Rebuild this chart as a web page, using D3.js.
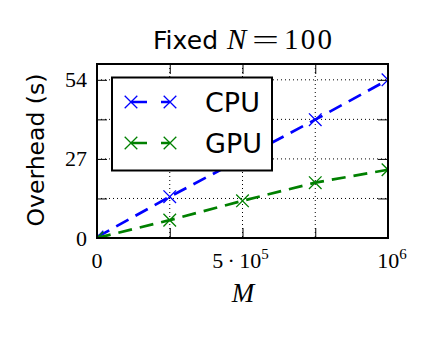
<!DOCTYPE html>
<html>
<head>
<meta charset="utf-8">
<script src="https://cdn.jsdelivr.net/npm/d3@7"></script>
<style>
  body { margin: 0; background: #fff; }
  svg { display: block; }
</style>
</head>
<body>
<svg id="chart" width="432" height="346"></svg>
<script>
const xValues = [0, 250000, 500000, 750000, 1000000];
const cpuValues = [0.3, 14.1, 27.2, 40.4, 54.0];
const gpuValues = [0.0, 6.1, 12.7, 18.9, 23.3];
const seriesNames = ["CPU", "GPU"];
const seriesColors = ["#0000ff", "#008000"];
const xTicks = [0, 250000, 500000, 750000, 1000000];
const yTicks = [0, 13.5, 27, 40.5, 54];
const yTickLabels = ["0", "", "27", "", "54"];

const svg = d3.select("#chart");
const L = 97, R = 388, T = 64, B = 238;
const x = d3.scaleLinear().domain([0, 1000000]).range([L, R]);
const y = d3.scaleLinear().domain([0, 59.4]).range([B, T]);

svg.append("defs").append("clipPath").attr("id", "clip")
  .append("rect").attr("x", L).attr("y", T).attr("width", R - L).attr("height", B - T);

// grid
const grid = svg.append("g");
xTicks.forEach(t => {
  grid.append("line").attr("x1", x(t)).attr("x2", x(t)).attr("y1", T).attr("y2", B)
    .attr("stroke", "#000").attr("stroke-width", 1).attr("stroke-dasharray", "1,3");
});
yTicks.forEach(t => {
  grid.append("line").attr("x1", L).attr("x2", R).attr("y1", y(t)).attr("y2", y(t))
    .attr("stroke", "#000").attr("stroke-width", 1).attr("stroke-dasharray", "1,3");
});

// axes with inward ticks
const tickLen = 10;
const axB = svg.append("g").attr("transform", `translate(0,${B})`)
  .call(d3.axisBottom(x).tickValues(xTicks).tickSize(-tickLen).tickFormat(""));
const axT = svg.append("g").attr("transform", `translate(0,${T})`)
  .call(d3.axisTop(x).tickValues(xTicks).tickSize(-tickLen).tickFormat(""));
const axL = svg.append("g").attr("transform", `translate(${L},0)`)
  .call(d3.axisLeft(y).tickValues(yTicks).tickSize(-tickLen).tickFormat(""));
const axRt = svg.append("g").attr("transform", `translate(${R},0)`)
  .call(d3.axisRight(y).tickValues(yTicks).tickSize(-tickLen).tickFormat(""));
[axB, axT, axL, axRt].forEach(a => {
  a.select(".domain").remove();
  a.selectAll(".tick line").attr("stroke", "#000").attr("stroke-width", 1);
});

// data lines
const data = [cpuValues, gpuValues];
const line = d3.line().x((d, i) => x(xValues[i])).y(d => y(d));
const plot = svg.append("g").attr("clip-path", "url(#clip)");
function xMarker(g, cx, cy, color) {
  const s = 6.3;
  g.append("path").attr("d", `M${cx - s},${cy - s}L${cx + s},${cy + s}M${cx - s},${cy + s}L${cx + s},${cy - s}`)
    .attr("stroke", color).attr("stroke-width", 1.3).attr("fill", "none");
}
data.forEach((vals, si) => {
  plot.append("path").datum(vals).attr("d", line)
    .attr("fill", "none").attr("stroke", seriesColors[si]).attr("stroke-width", 2.7)
    .attr("stroke-dasharray", "14,8");
  vals.forEach((v, i) => xMarker(plot, x(xValues[i]), y(v), seriesColors[si]));
});

// frame
svg.append("rect").attr("x", L).attr("y", T).attr("width", R - L).attr("height", B - T)
  .attr("fill", "none").attr("stroke", "#000").attr("stroke-width", 2);

// legend
const lg = svg.append("g");
lg.append("rect").attr("x", 112).attr("y", 77.5).attr("width", 160).attr("height", 93)
  .attr("fill", "#fff").attr("stroke", "#000").attr("stroke-width", 2);
seriesNames.forEach((name, i) => {
  const ly = 102 + i * 41;
  lg.append("line").attr("x1", 131).attr("x2", 170).attr("y1", ly).attr("y2", ly)
    .attr("stroke", seriesColors[i]).attr("stroke-width", 2.7).attr("stroke-dasharray", "16,14");
  xMarker(lg, 131, ly, seriesColors[i]);
  xMarker(lg, 170, ly, seriesColors[i]);
  lg.append("text").attr("x", 205).attr("y", ly + 10).text(name)
    .attr("font-family", "DejaVu Sans").attr("font-size", 27).attr("fill", "#000");
});

// tick labels
const serif = "Liberation Serif";
yTicks.forEach((t, i) => {
  if (!yTickLabels[i]) return;
  svg.append("text").attr("x", 87).attr("y", y(t) + 7.5).attr("text-anchor", "end")
    .attr("font-family", serif).attr("font-size", 22).text(yTickLabels[i]);
});
svg.append("text").attr("x", x(0)).attr("y", 268).attr("text-anchor", "middle")
  .attr("font-family", serif).attr("font-size", 22).text("0");
const t5 = svg.append("text").attr("x", x(500000) - 2).attr("y", 268).attr("text-anchor", "middle")
  .attr("font-family", serif).attr("font-size", 22);
t5.append("tspan").text("5\u2009\u00b7\u200910");
t5.append("tspan").attr("dy", -9).attr("font-size", 15).text("5");
const t6 = svg.append("text").attr("x", x(1000000) + 4).attr("y", 268).attr("text-anchor", "middle")
  .attr("font-family", serif).attr("font-size", 22);
t6.append("tspan").text("10");
t6.append("tspan").attr("dy", -9).attr("font-size", 15).text("6");

// axis labels
svg.append("text").attr("x", 243).attr("y", 302).attr("text-anchor", "middle")
  .attr("font-family", serif).attr("font-style", "italic").attr("font-size", 27).text("M");
svg.append("text").attr("transform", "translate(44,150) rotate(-90)").attr("text-anchor", "middle")
  .attr("font-family", "DejaVu Sans").attr("font-size", 23.5).text("Overhead (s)");

// title
svg.append("text").attr("x", 153).attr("y", 49).attr("font-family", "DejaVu Sans")
  .attr("font-size", 25).attr("textLength", 65).text("Fixed");
svg.append("text").attr("x", 227).attr("y", 49).attr("font-family", serif)
  .attr("font-style", "italic").attr("font-size", 29).text("N");
svg.append("text").attr("x", 252).attr("y", 49).attr("font-family", serif)
  .attr("font-size", 27).attr("textLength", 27).attr("lengthAdjust", "spacingAndGlyphs").text("=");
svg.append("text").attr("x", 284).attr("y", 49).attr("font-family", serif)
  .attr("font-size", 29).attr("textLength", 48).text("100");
</script>
</body>
</html>
